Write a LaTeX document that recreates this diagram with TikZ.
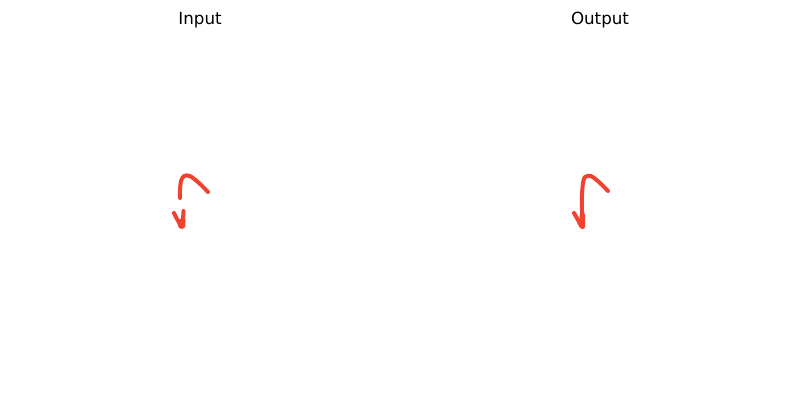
\documentclass[tikz,border=0pt]{standalone}
\usepackage{fontspec}
\setmainfont{DejaVu Sans}
\definecolor{stroke}{RGB}{240,66,48}
\begin{document}
\begin{tikzpicture}[x=1pt,y=-1pt,
  title/.style={font=\fontsize{16.7}{20}\selectfont, inner sep=0pt, anchor=base},
  ink/.style={draw=stroke, line width=4pt, line cap=round, line join=round},
  thick ink/.style={ink, line width=5.5pt}]
\useasboundingbox (0,0) rectangle (800,400);
\node[title] (tin) at (200,24) {Input};
\node[title] (tout) at (600,24) {Output};
% input stroke
\draw[ink] plot[smooth] coordinates {(208,192) (199,183) (190,176) (184,176) (181,181) (180,190) (180,198)};
\draw[ink] plot[smooth] coordinates {(174,213) (177,219) (180,224)};
\draw[thick ink] (180,222) -- (181,226);
\draw[ink] plot[smooth] coordinates {(183.5,211) (183,219) (182.5,225)};
\draw[thick ink] (182.8,220) -- (182.5,226);
% output stroke
\draw[ink] plot[smooth] coordinates {(608,191) (600,183) (591,176) (585,177) (583,183) (582,195) (582,210) (582.5,227)};
\draw[thick ink] (582.3,215) -- (582.5,226);
\draw[ink] plot[smooth] coordinates {(574,213) (578,220) (581,226)};
\end{tikzpicture}
\end{document}
